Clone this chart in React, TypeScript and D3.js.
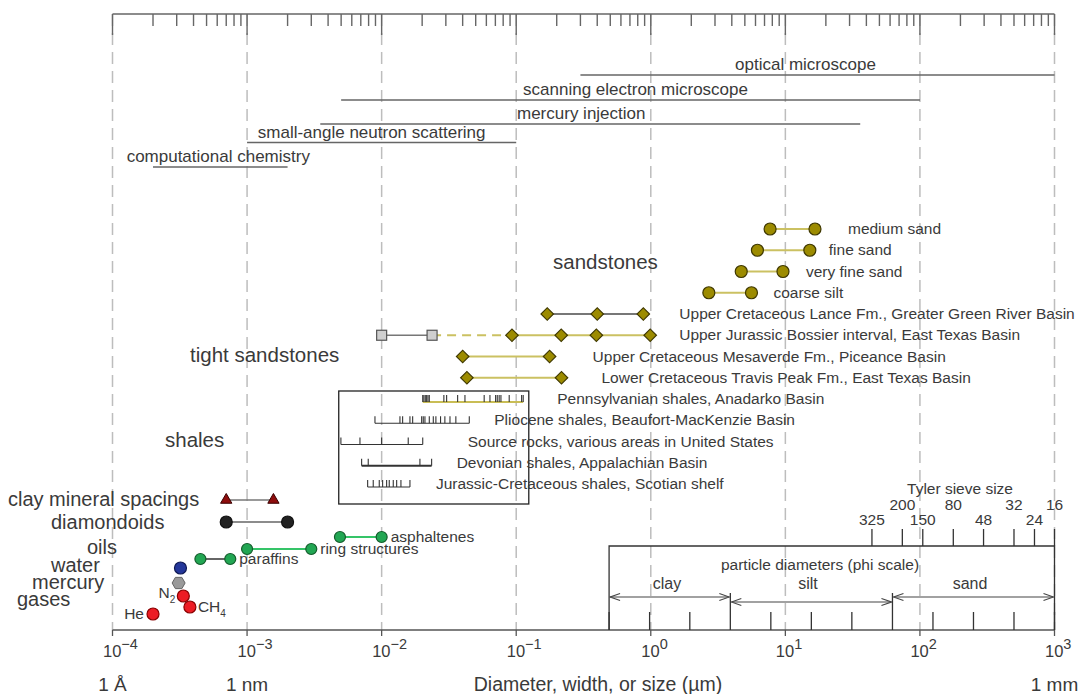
import React, { useEffect, useRef } from 'react';
import * as d3 from 'd3';

// size axis decades (micrometres)
const decades = [1e-4, 1e-3, 1e-2, 1e-1, 1, 10, 100, 1000];
const decadePowers = ['\u22124', '\u22123', '\u22122', '\u22121', '0', '1', '2', '3'];
const unitLabels = ['1 \u00c5', '1 nm', '1 mm'];
const unitValues = [1e-4, 1e-3, 1e3];

// measurement techniques
const methodNames = ['optical microscope', 'scanning electron microscope', 'mercury injection', 'small-angle neutron scattering', 'computational chemistry'];
const methodFrom = [0.3, 0.005, 0.0035, 0.001, 0.0002];
const methodTo = [1000, 100, 36, 0.1, 0.002];

// sandstones
const grainNames = ['medium sand', 'fine sand', 'very fine sand', 'coarse silt'];
const grainFrom = [7.7, 6.2, 4.7, 2.7];
const grainTo = [16.6, 15.2, 9.6, 5.6];

// tight sandstones
const tightNames = [
  'Upper Cretaceous Lance Fm., Greater Green River Basin',
  'Upper Jurassic Bossier interval, East Texas Basin',
  'Upper Cretaceous Mesaverde Fm., Piceance Basin',
  'Lower Cretaceous Travis Peak Fm., East Texas Basin',
];
const tightValues = [
  [0.17, 0.4, 0.88],
  [0.093, 0.216, 0.394, 0.99],
  [0.04, 0.177],
  [0.043, 0.217],
];
const bossierCore = [0.01, 0.0237];

// shales
const shaleNames = [
  'Pennsylvanian shales, Anadarko Basin',
  'Pliocene shales, Beaufort-MacKenzie Basin',
  'Source rocks, various areas in United States',
  'Devonian shales, Appalachian Basin',
  'Jurassic-Cretaceous shales, Scotian shelf',
];
const shaleValues = [
  [0.0202, 0.0206, 0.0211, 0.0216, 0.0221, 0.0226, 0.029, 0.0304, 0.0367, 0.0416, 0.0578, 0.0638, 0.0703, 0.0723, 0.0747, 0.077, 0.0887, 0.1097, 0.1127],
  [0.00892, 0.01368, 0.01432, 0.01623, 0.017, 0.01983, 0.02038, 0.02098, 0.0226, 0.0242, 0.0253, 0.0274, 0.0295, 0.0322, 0.0356, 0.0448],
  [0.00498, 0.0069, 0.01, 0.01576, 0.0202],
  [0.0071, 0.00795, 0.01925, 0.02352],
  [0.00787, 0.00866, 0.0096, 0.01017, 0.01089, 0.01139, 0.0122, 0.01293, 0.01391, 0.01623],
];
const shaleBox = [0.0048, 0.124];

// molecules
const clayRange = [0.0007, 0.00157];
const diamondoidRange = [0.0007, 0.002];
const oilNames = ['asphaltenes', 'ring structures', 'paraffins'];
const oilFrom = [0.0049, 0.001, 0.00045];
const oilTo = [0.01, 0.003, 0.00075];
const waterSize = 0.00032;
const mercurySize = 0.00031;
const gasNames = ['N', 'CH', 'He'];
const gasSubs = ['2', '4', ''];
const gasSizes = [0.000336, 0.000376, 0.0002];

const categoryNames = ['clay mineral spacings', 'diamondoids', 'oils', 'water', 'mercury', 'gases'];

// Tyler sieve and phi scale
const sieveMesh = ['325', '200', '150', '80', '48', '32', '24', '16'];
const sieveMicrons = [44, 74, 105, 177, 297, 500, 710, 1000];
const phiMicrons = [0.49, 0.98, 1.95, 3.9, 7.8, 15.6, 31.2, 62.5, 125, 250, 500, 1000];
const classNames = ['clay', 'silt', 'sand'];
const classFrom = [0.49, 3.9, 62.5];
const classTo = [3.9, 62.5, 1000];

const W = 1086;
const H = 694;
const FONT = '"Liberation Sans", Arial, Helvetica, sans-serif';
const INK = '#3a3a3a';
const OLIVE = '#9c8b00';
const OLIVE_EDGE = '#3f3800';
const KHAKI = '#cbc162';
const GREEN = '#22a653';
const GREEN_LINE = '#35c468';

const App: React.FC = () => {
  const svgRef = useRef<SVGSVGElement>(null);

  useEffect(() => {
    if (!svgRef.current) return;
    const svg = d3.select(svgRef.current);
    svg.selectAll('*').remove();

    const x = d3.scaleLog().domain([1e-4, 1e3]).range([112.5, 1054.5]);
    const axisTop = 14;
    const axisBottom = 630;

    const rowNames = [...grainNames, ...tightNames, ...shaleNames];
    const yRow = d3.scalePoint<string>().domain(rowNames).range([229, 484]);

    const label = (x0: number, y0: number, s: string, size: number, anchor = 'start') =>
      svg.append('text')
        .attr('x', x0).attr('y', y0)
        .attr('font-size', size)
        .attr('text-anchor', anchor)
        .attr('fill', INK)
        .text(s);

    const segment = (a: number, b: number, y0: number, color: string, w = 1.6, dash?: string) => {
      const l = svg.append('line')
        .attr('x1', x(a)).attr('x2', x(b))
        .attr('y1', y0).attr('y2', y0)
        .attr('stroke', color).attr('stroke-width', w);
      if (dash) l.attr('stroke-dasharray', dash);
      return l;
    };

    const circle = (v: number, y0: number, fill: string, edge: string, r = 6) =>
      svg.append('circle').attr('cx', x(v)).attr('cy', y0).attr('r', r)
        .attr('fill', fill).attr('stroke', edge).attr('stroke-width', 1.2);

    const diamond = (v: number, y0: number) =>
      svg.append('path')
        .attr('d', d3.symbol(d3.symbolSquare, 78)()!)
        .attr('transform', `translate(${x(v)},${y0}) rotate(45)`)
        .attr('fill', OLIVE).attr('stroke', OLIVE_EDGE).attr('stroke-width', 1.2);

    // arrow heads
    const defs = svg.append('defs');
    defs.append('marker')
      .attr('id', 'arr')
      .attr('viewBox', '-11 -5 12 10')
      .attr('refX', 0).attr('refY', 0)
      .attr('markerWidth', 12).attr('markerHeight', 10)
      .attr('markerUnits', 'userSpaceOnUse')
      .attr('orient', 'auto-start-reverse')
      .append('path')
      .attr('d', 'M-10,-3.5L0,0L-10,3.5')
      .attr('fill', 'none').attr('stroke', '#444').attr('stroke-width', 1.1);

    // dashed decade grid
    svg.append('g')
      .selectAll('line')
      .data(decades)
      .join('line')
      .attr('x1', d => x(d)).attr('x2', d => x(d))
      .attr('y1', axisTop).attr('y2', axisBottom)
      .attr('stroke', '#bdbdbd').attr('stroke-width', 1.5)
      .attr('stroke-dasharray', '12,7');

    // top axis
    const isDecade = (d: number) => Math.abs(Math.log10(d) - Math.round(Math.log10(d))) < 1e-6;
    svg.append('line')
      .attr('x1', x(1e-4)).attr('x2', x(1e3)).attr('y1', axisTop).attr('y2', axisTop)
      .attr('stroke', '#666').attr('stroke-width', 1.5);
    svg.append('g')
      .selectAll('line')
      .data(x.ticks())
      .join('line')
      .attr('x1', d => x(d)).attr('x2', d => x(d))
      .attr('y1', axisTop).attr('y2', d => (isDecade(d) ? axisTop + 21 : axisTop + 12))
      .attr('stroke', '#666').attr('stroke-width', 1.4);

    // bottom axis
    svg.append('line')
      .attr('x1', x(1e-4)).attr('x2', x(1e3)).attr('y1', axisBottom).attr('y2', axisBottom)
      .attr('stroke', '#555').attr('stroke-width', 1.5);
    svg.append('g')
      .selectAll('line')
      .data(decades)
      .join('line')
      .attr('x1', d => x(d)).attr('x2', d => x(d))
      .attr('y1', axisBottom).attr('y2', axisBottom + 6)
      .attr('stroke', '#555').attr('stroke-width', 1.3);
    decades.forEach((d, i) => {
      const t = svg.append('text')
        .attr('x', x(d) - 9.5).attr('y', 657)
        .attr('font-size', 16.5).attr('fill', INK);
      t.append('tspan').text('10');
      t.append('tspan').attr('dy', -8).attr('font-size', 14.5).text(decadePowers[i]);
    });
    unitLabels.forEach((s, i) => label(x(unitValues[i]), 691, s, 19, 'middle'));
    label(598, 691, 'Diameter, width, or size  (\u00b5m)', 19.5, 'middle');

    // measurement techniques
    const methodY = [75, 100, 124, 142.5, 167];
    const methodDx = [-12, 5, -9, -10, -2];
    methodNames.forEach((name, i) => {
      segment(methodFrom[i], methodTo[i], methodY[i], '#666', 1.6);
      label(x(Math.sqrt(methodFrom[i] * methodTo[i])) + methodDx[i], methodY[i] - 5, name, 17, 'middle');
    });

    // section titles
    label(553, 269, 'sandstones', 20.5);
    label(190, 362, 'tight sandstones', 20.5);
    label(165, 447, 'shales', 20.5);

    // sandstones
    const grainGap = [33, 19, 23, 22];
    grainNames.forEach((name, i) => {
      const y0 = yRow(name)!;
      segment(grainFrom[i], grainTo[i], y0, KHAKI, 1.8);
      circle(grainFrom[i], y0, OLIVE, OLIVE_EDGE, 6);
      circle(grainTo[i], y0, OLIVE, OLIVE_EDGE, 6);
      label(x(grainTo[i]) + grainGap[i], y0 + 5, name, 15.5);
    });

    // tight sandstones
    const tightGap = [36, 29, 43, 40];
    tightNames.forEach((name, i) => {
      const y0 = yRow(name)!;
      const vals = tightValues[i];
      if (i === 1) {
        segment(bossierCore[0], bossierCore[1], y0, '#777', 1.6);
        segment(bossierCore[1], vals[0], y0, KHAKI, 2, '9,6');
      }
      segment(d3.min(vals)!, d3.max(vals)!, y0, i === 0 ? '#777' : KHAKI, 2);
      if (i === 1) {
        bossierCore.forEach(v => {
          svg.append('rect')
            .attr('x', x(v) - 5).attr('y', y0 - 5).attr('width', 10).attr('height', 10)
            .attr('fill', '#cfcfcf').attr('stroke', '#555').attr('stroke-width', 1.2);
        });
      }
      vals.forEach(v => diamond(v, y0));
      label(x(d3.max(vals)!) + tightGap[i], y0 + 5, name, 15.5);
    });

    // shales
    svg.append('rect')
      .attr('x', x(shaleBox[0])).attr('y', 391)
      .attr('width', x(shaleBox[1]) - x(shaleBox[0])).attr('height', 113)
      .attr('fill', 'none').attr('stroke', '#222').attr('stroke-width', 1.3);
    const shaleGap = [34, 25, 45, 25, 26];
    shaleNames.forEach((name, i) => {
      const vals = shaleValues[i];
      const yb = yRow(name)! + 3;
      const lo = d3.min(vals)!;
      const hi = d3.max(vals)!;
      segment(lo, hi, yb, i === 0 ? '#c9bd55' : '#333', i === 0 ? 2.2 : i === 3 ? 2 : 1.2);
      svg.append('g')
        .selectAll('line')
        .data(vals)
        .join('line')
        .attr('x1', d => x(d)).attr('x2', d => x(d))
        .attr('y1', yb).attr('y2', yb - 7)
        .attr('stroke', '#333').attr('stroke-width', 1.1);
      label(x(hi) + shaleGap[i], yb + 2, name, 15.5);
    });

    // category labels, lower left
    const catX = [8, 51, 87, 51, 32, 17];
    const catY = [506, 529, 554, 572, 589, 606];
    categoryNames.forEach((name, i) => label(catX[i], catY[i], name, 20));

    // clay mineral spacings
    segment(clayRange[0], clayRange[1], 500, '#777', 1.5);
    clayRange.forEach(v => {
      svg.append('path')
        .attr('d', d3.symbol(d3.symbolTriangle, 55)()!)
        .attr('transform', `translate(${x(v)},500)`)
        .attr('fill', '#8e0d0d').attr('stroke', '#3a0000').attr('stroke-width', 1);
    });

    // diamondoids
    segment(diamondoidRange[0], diamondoidRange[1], 522, '#666', 1.6);
    diamondoidRange.forEach(v => circle(v, 522, '#222', '#111', 6));

    // oils
    const oilY = [537, 549, 559];
    const oilLine = [GREEN_LINE, GREEN_LINE, '#666'];
    oilNames.forEach((name, i) => {
      segment(oilFrom[i], oilTo[i], oilY[i], oilLine[i], 2);
      circle(oilFrom[i], oilY[i], GREEN, '#145c2c', 5.5);
      circle(oilTo[i], oilY[i], GREEN, '#145c2c', 5.5);
      label(x(oilTo[i]) + 9, oilY[i] + 5, name, 15.5);
    });

    // water
    circle(waterSize, 568, '#24379a', '#101a55', 6);

    // mercury (hexagon)
    const hex = d3.range(6).map(k => {
      const a = (Math.PI / 3) * k;
      return [Math.cos(a) * 6.5, Math.sin(a) * 6.5] as [number, number];
    });
    svg.append('path')
      .attr('d', d3.line()(hex) + 'Z')
      .attr('transform', `translate(${x(mercurySize)},583)`)
      .attr('fill', '#9a9a9a').attr('stroke', '#666').attr('stroke-width', 1);

    // gases
    const gasY = [596, 607, 614];
    gasNames.forEach((name, i) => {
      circle(gasSizes[i], gasY[i], '#ec1c24', '#8a0000', 6);
      const t = svg.append('text')
        .attr('font-size', 15.5).attr('fill', INK);
      if (i === 1) {
        t.attr('x', x(gasSizes[i]) + 8).attr('y', gasY[i] + 5);
      } else {
        t.attr('x', x(gasSizes[i]) - (i === 0 ? 8 : 9)).attr('y', gasY[i] + (i === 0 ? 2 : 5)).attr('text-anchor', 'end');
      }
      t.append('tspan').text(name);
      if (gasSubs[i]) t.append('tspan').attr('dy', 5).attr('font-size', 10).text(gasSubs[i]);
    });

    // Tyler sieve size
    const boxTop = 546;
    label(960, 494, 'Tyler sieve size', 15.5, 'middle');
    svg.append('g')
      .selectAll('line')
      .data(sieveMicrons)
      .join('line')
      .attr('x1', d => x(d)).attr('x2', d => x(d))
      .attr('y1', boxTop - 17).attr('y2', boxTop)
      .attr('stroke', '#333').attr('stroke-width', 1.3);
    sieveMesh.forEach((m, i) => label(x(sieveMicrons[i]), i % 2 === 0 ? 525 : 510, m, 15.5, 'middle'));

    // phi scale box
    svg.append('path')
      .attr('d', `M${x(phiMicrons[0])},${axisBottom}V${boxTop}H${x(1000)}V${axisBottom}`)
      .attr('fill', 'none').attr('stroke', '#333').attr('stroke-width', 1.3);
    svg.append('g')
      .selectAll('line')
      .data(phiMicrons)
      .join('line')
      .attr('x1', d => x(d)).attr('x2', d => x(d))
      .attr('y1', d => (classFrom.includes(d) && d !== classFrom[0] ? 593 : 612)).attr('y2', axisBottom)
      .attr('stroke', '#333').attr('stroke-width', 1.3);
    label(820, 570, 'particle diameters (phi scale)', 15.5, 'middle');
    const classArrowY = [597, 602, 597];
    const classLabelX = [667, 808, 970];
    classNames.forEach((name, i) => {
      svg.append('line')
        .attr('x1', x(classFrom[i]) + 1).attr('x2', x(classTo[i]) - 1)
        .attr('y1', classArrowY[i]).attr('y2', classArrowY[i])
        .attr('stroke', '#444').attr('stroke-width', 1.1)
        .attr('marker-start', 'url(#arr)').attr('marker-end', 'url(#arr)');
      label(classLabelX[i], 589, name, 16, 'middle');
    });
  }, []);

  return (
    <svg
      ref={svgRef}
      width={W}
      height={H}
      fontFamily={FONT}
      style={{ position: 'absolute', left: 0, top: 0, background: '#fff' }}
    />
  );
};

export default App;
